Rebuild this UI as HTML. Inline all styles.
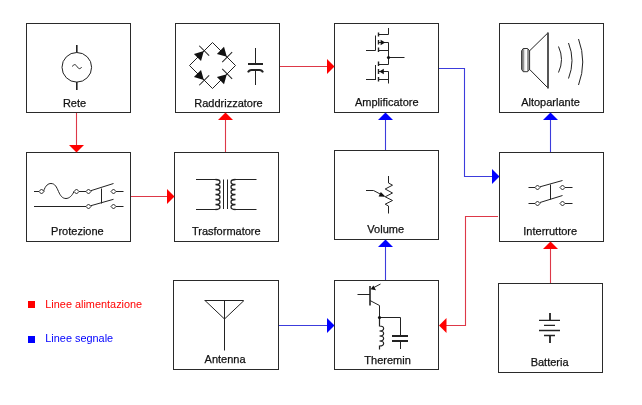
<!DOCTYPE html>
<html>
<head>
<meta charset="utf-8">
<style>
html,body{margin:0;padding:0;background:#fff;}
body{width:642px;height:405px;overflow:hidden;}
svg{display:block;will-change:transform;}
text{font-family:"Liberation Sans",sans-serif;font-size:11.5px;}
</style>
</head>
<body>
<svg width="642" height="405" viewBox="0 0 642 405">
<rect x="0" y="0" width="642" height="405" fill="#fff"/>
<!-- boxes -->
<g fill="none" stroke="#2a2a2a" stroke-width="1">
<rect x="26.5" y="23.5" width="104" height="89"/>
<rect x="175.5" y="23.5" width="104" height="89"/>
<rect x="334.5" y="23.5" width="104" height="89"/>
<rect x="499.5" y="23.5" width="104" height="89"/>
<rect x="26.5" y="152.5" width="104" height="89"/>
<rect x="174.5" y="152.5" width="104" height="89"/>
<rect x="334.5" y="150.5" width="104" height="89"/>
<rect x="499.5" y="152.5" width="104" height="89"/>
<rect x="173.5" y="280.5" width="105" height="89"/>
<rect x="334.5" y="280.5" width="104" height="89"/>
<rect x="498.5" y="283.5" width="104" height="89"/>
</g>
<!-- red connections -->
<g fill="none" stroke="#dd3848" stroke-width="1.1">
<path d="M76.5 113V146"/>
<path d="M131 196.5H168"/>
<path d="M225.5 152V119"/>
<path d="M280 66.5H328"/>
<path d="M498 216.5H465.5V325.5H445"/>
<path d="M550.5 283V248"/>
</g>
<g fill="#f00" stroke="none">
<polygon points="69,145 84,145 76.5,152.5"/>
<polygon points="167,189 167,204 174.5,196.5"/>
<polygon points="218,120 233,120 225.5,112.5"/>
<polygon points="327,59 327,74 334.5,66.5"/>
<polygon points="446.5,318 446.5,333 439,325.5"/>
<polygon points="543,249 558,249 550.5,241.5"/>
</g>
<!-- blue connections -->
<g fill="none" stroke="#3c3cdc" stroke-width="1.1">
<path d="M439 68.5H464.5V176.5H493"/>
<path d="M550.5 152V119"/>
<path d="M385.5 150V119"/>
<path d="M385.5 280V246"/>
<path d="M279 325.5H328"/>
</g>
<g fill="#00f" stroke="none">
<polygon points="492,169 492,184 499.5,176.5"/>
<polygon points="543,120 558,120 550.5,112.5"/>
<polygon points="378,120 393,120 385.5,112.5"/>
<polygon points="378,247 393,247 385.5,239.5"/>
<polygon points="327,318 327,333 334.5,325.5"/>
</g>
<!-- legend -->
<rect x="28" y="301" width="7" height="7" fill="#f00"/>
<rect x="28" y="336" width="7" height="7" fill="#00f"/>
<text x="45.3" y="307.8" fill="#f00" style="font-size:10.9px">Linee alimentazione</text>
<text x="45.3" y="342.2" fill="#00f" style="font-size:10.9px">Linee segnale</text>
<!-- labels -->
<g fill="#111" stroke="#111" stroke-width="0.25" text-anchor="middle">
<text x="74.5" y="106.6" textLength="23.25" lengthAdjust="spacingAndGlyphs">Rete</text>
<text x="228.5" y="106.6" textLength="68.48" lengthAdjust="spacingAndGlyphs">Raddrizzatore</text>
<text x="386.8" y="106.3" textLength="63.58" lengthAdjust="spacingAndGlyphs">Amplificatore</text>
<text x="550.5" y="106.1" textLength="58.72" lengthAdjust="spacingAndGlyphs">Altoparlante</text>
<text x="77.4" y="234.9" textLength="52.59" lengthAdjust="spacingAndGlyphs">Protezione</text>
<text x="226.3" y="234.9" textLength="68.67" lengthAdjust="spacingAndGlyphs">Trasformatore</text>
<text x="385.7" y="232.8" textLength="36.70" lengthAdjust="spacingAndGlyphs">Volume</text>
<text x="550.2" y="234.9" textLength="53.81" lengthAdjust="spacingAndGlyphs">Interruttore</text>
<text x="225.1" y="363.2" textLength="40.98" lengthAdjust="spacingAndGlyphs">Antenna</text>
<text x="387.6" y="363.6" textLength="46.47" lengthAdjust="spacingAndGlyphs">Theremin</text>
<text x="549.6" y="366.1" textLength="37.92" lengthAdjust="spacingAndGlyphs">Batteria</text>
</g>
<!-- ICONS -->
<g fill="none" stroke="#222" stroke-width="1">
<!-- Rete -->
<circle cx="76.8" cy="67.3" r="14.8"/>
<path d="M76.8 45V52.5M76.8 82V90" stroke-width="1.6"/>
<path d="M72.5 66.5C73.5 64 75.5 64 77 66.5S80.5 69.5 81.5 67"/>
<!-- Raddrizzatore bridge -->
<path d="M212.5 42.5L235.5 65.5L212.5 88.5L189.5 65.5Z"/>
<!-- capacitor -->
<path d="M255.5 48V64M255.5 70V85"/>
<path d="M248 64H263" stroke-width="2"/>
<path d="M248 72.3Q249 70 251.5 70H259.5Q262 70 263 72.3" stroke-width="2"/>
</g>
<!-- diodes: local coords along edge, triangle base at -5, apex at +4, bar at +4 -->
<g fill="#111" stroke="#222" stroke-width="1">
<g transform="translate(201,53.9) rotate(-45)"><polygon points="-5,-5 -5,5 4,0" stroke="none"/><path d="M4.5 -7V7" fill="none"/></g>
<g transform="translate(224,53.9) rotate(45)"><polygon points="-5,-5 -5,5 4,0" stroke="none"/><path d="M4.5 -7V7" fill="none"/></g>
<g transform="translate(201,77.1) rotate(45)"><polygon points="-5,-5 -5,5 4,0" stroke="none"/><path d="M4.5 -7V7" fill="none"/></g>
<g transform="translate(224,77.1) rotate(-45)"><polygon points="-5,-5 -5,5 4,0" stroke="none"/><path d="M4.5 -7V7" fill="none"/></g>
</g>

<!-- Amplificatore (CMOS) -->
<g fill="none" stroke="#222" stroke-width="1">
<path d="M388.5 28V34.5H378M388.5 42.5V64.5H378M378 50.5H388.5M378 42.5H388.5"/>
<path d="M378.5 32.5V36.5M378.5 40V44.5M378.5 47.5V52" stroke-width="1.4"/>
<path d="M375.5 35.5V50.5M366 50.5H375.5"/>
<path d="M378.5 61.5V66M378.5 69V74M378.5 77V81.5" stroke-width="1.4"/>
<path d="M375.5 65V80M366 79.5H375.5"/>
<path d="M378 71.5H388.5V83.5M378 79.5H388.5"/>
<path d="M388.5 57.5H404.5"/>
</g>
<g fill="#111" stroke="none">
<polygon points="380.6,39.8 380.6,45.2 385.2,42.5"/>
<polygon points="383.8,68.8 383.8,74.2 379.2,71.5"/>
<circle cx="388.5" cy="57.5" r="1.6"/>
</g>
<!-- Altoparlante -->
<defs>
<linearGradient id="mg" x1="0" x2="1" y1="0" y2="0">
<stop offset="0" stop-color="#777"/>
<stop offset="0.3" stop-color="#999"/>
<stop offset="0.38" stop-color="#eee"/>
<stop offset="0.62" stop-color="#fff"/>
<stop offset="0.7" stop-color="#999"/>
<stop offset="1" stop-color="#888"/>
</linearGradient>
</defs>
<path d="M521.6 50.8L523.2 48.5H527.6L529.6 50.8V69.4L527.6 71.7H523.2L521.6 69.4Z" fill="url(#mg)" stroke="#333" stroke-width="1"/>
<g fill="none" stroke="#222" stroke-width="1">
<path d="M529.6 50.8L548 32.8M529.6 69.4L548 88"/>
<path d="M548 32.5V88.5" stroke-width="1.8" stroke="#444"/>
<path d="M558.5 46.5Q564.5 59.5 558.5 72.5"/>
<path d="M568.5 43Q575.5 60.5 568.5 78.5"/>
<path d="M578.5 39Q587 62 578.5 85"/>
</g>
<!-- Protezione -->
<g fill="none" stroke="#222" stroke-width="1">
<path d="M34 191.5H39M123.5 191.5H116M43.5 191.5C45.5 185 48.5 183.5 51 183.5C55 183.5 56.5 187 58.5 191.5C60.5 196 62.5 198.5 66 198.5C69 198.5 72 196 74 191.5M79 191.5H86M90.5 190.8L113.5 183.5"/>
<path d="M34 206.5H86M90.5 205.8L113.5 199.3M116 206.5H123.5"/>
<path d="M101.5 188.5V203.5"/>
</g>
<g fill="#fff" stroke="#222" stroke-width="1">
<path d="M41.5 189L44 191.5L41.5 194L39 191.5Z"/>
<path d="M76.5 189L79 191.5L76.5 194L74 191.5Z"/>
<path d="M88.5 189L91 191.5L88.5 194L86 191.5Z"/>
<path d="M113.5 189L116 191.5L113.5 194L111 191.5Z"/>
<path d="M88.5 204L91 206.5L88.5 209L86 206.5Z"/>
<path d="M113.5 204L116 206.5L113.5 209L111 206.5Z"/>
</g>
<!-- Trasformatore -->
<g fill="none" stroke="#222" stroke-width="1">
<path d="M196 179.5H217.5"/>
<path d="M196 209.5H217.5"/>
<path d="M235 179.5H256.5"/>
<path d="M235 209.5H256.5"/>
<path d="M223.5 179.5V209M227.5 179.5V209"/>
<path d="M215.5 179.5C221.5 179.5 221.5 184.5 215.5 184.5C221.5 184.5 221.5 189.5 215.5 189.5C221.5 189.5 221.5 194.5 215.5 194.5C221.5 194.5 221.5 199.5 215.5 199.5C221.5 199.5 221.5 204.5 215.5 204.5C221.5 204.5 221.5 209.5 215.5 209.5" stroke-width="1.3"/>
<path d="M235.5 179.5C229.5 179.5 229.5 184.5 235.5 184.5C229.5 184.5 229.5 189.5 235.5 189.5C229.5 189.5 229.5 194.5 235.5 194.5C229.5 194.5 229.5 199.5 235.5 199.5C229.5 199.5 229.5 204.5 235.5 204.5C229.5 204.5 229.5 209.5 235.5 209.5" stroke-width="1.3"/>
</g>
<!-- Volume -->
<g fill="none" stroke="#222" stroke-width="1">
<path d="M388.5 176V183L392.5 185.2L385.2 189L392.5 193L385.2 196.8L392.5 200.5L385.2 204.2L388.5 206V213.5"/>
<path d="M366 190.5H373.5L384 196"/>
</g>
<polygon points="385.6,196.8 380.8,191.9 378.6,196.6" fill="#111"/>
<!-- Interruttore -->
<g fill="none" stroke="#222" stroke-width="1">
<path d="M528.5 187.5H535M540 186.8L562.5 180.5M565 187.5H572.5"/>
<path d="M528.5 203.5H535M540 202.5L562.5 195.5M565 203.5H572.5"/>
<path d="M550.5 184.5V199.5"/>
</g>
<g fill="#fff" stroke="#222" stroke-width="1">
<path d="M537.5 185L540 187.5L537.5 190L535 187.5Z"/>
<path d="M562.5 185L565 187.5L562.5 190L560 187.5Z"/>
<path d="M537.5 201L540 203.5L537.5 206L535 203.5Z"/>
<path d="M562.5 201L565 203.5L562.5 206L560 203.5Z"/>
</g>
<!-- Antenna -->
<g fill="none" stroke="#222" stroke-width="1">
<path d="M204.5 300.5H243.5M224.5 300V350.5M205 300.5L224.5 319L244 300.5"/>
</g>
<!-- Theremin -->
<g fill="none" stroke="#222" stroke-width="1">
<path d="M370 286V305.5" stroke-width="1.6"/>
<path d="M357.5 294.5H370"/>
<path d="M372 288.5L380.5 284"/>
<path d="M370 300.5L379.5 305.5V317.5H400.5V336"/>
<path d="M379.5 317.5V326C385 326 385 331 379.5 331C385 331 385 336 379.5 336C385 336 385 341 379.5 341C385 341 385 346 379.5 346V349.5" stroke-width="1.2"/>
<path d="M392 336H408M392 341H408" stroke-width="2"/>
<path d="M400.5 341V349"/>
</g>
<polygon points="370.6,289.2 373.4,285.4 376,290.2" fill="#111"/>
<circle cx="379.5" cy="317.5" r="1.6" fill="#111"/>
<!-- Batteria -->
<g fill="none" stroke="#222">
<path d="M550 313V320M550 335.5V343" stroke-width="1.8"/>
<path d="M539 320.3H560M539 330.5H560" stroke-width="1.3"/>
<path d="M544 325.4H555M544 335.5H555" stroke-width="1.3"/>
</g>
</svg>
</body>
</html>
